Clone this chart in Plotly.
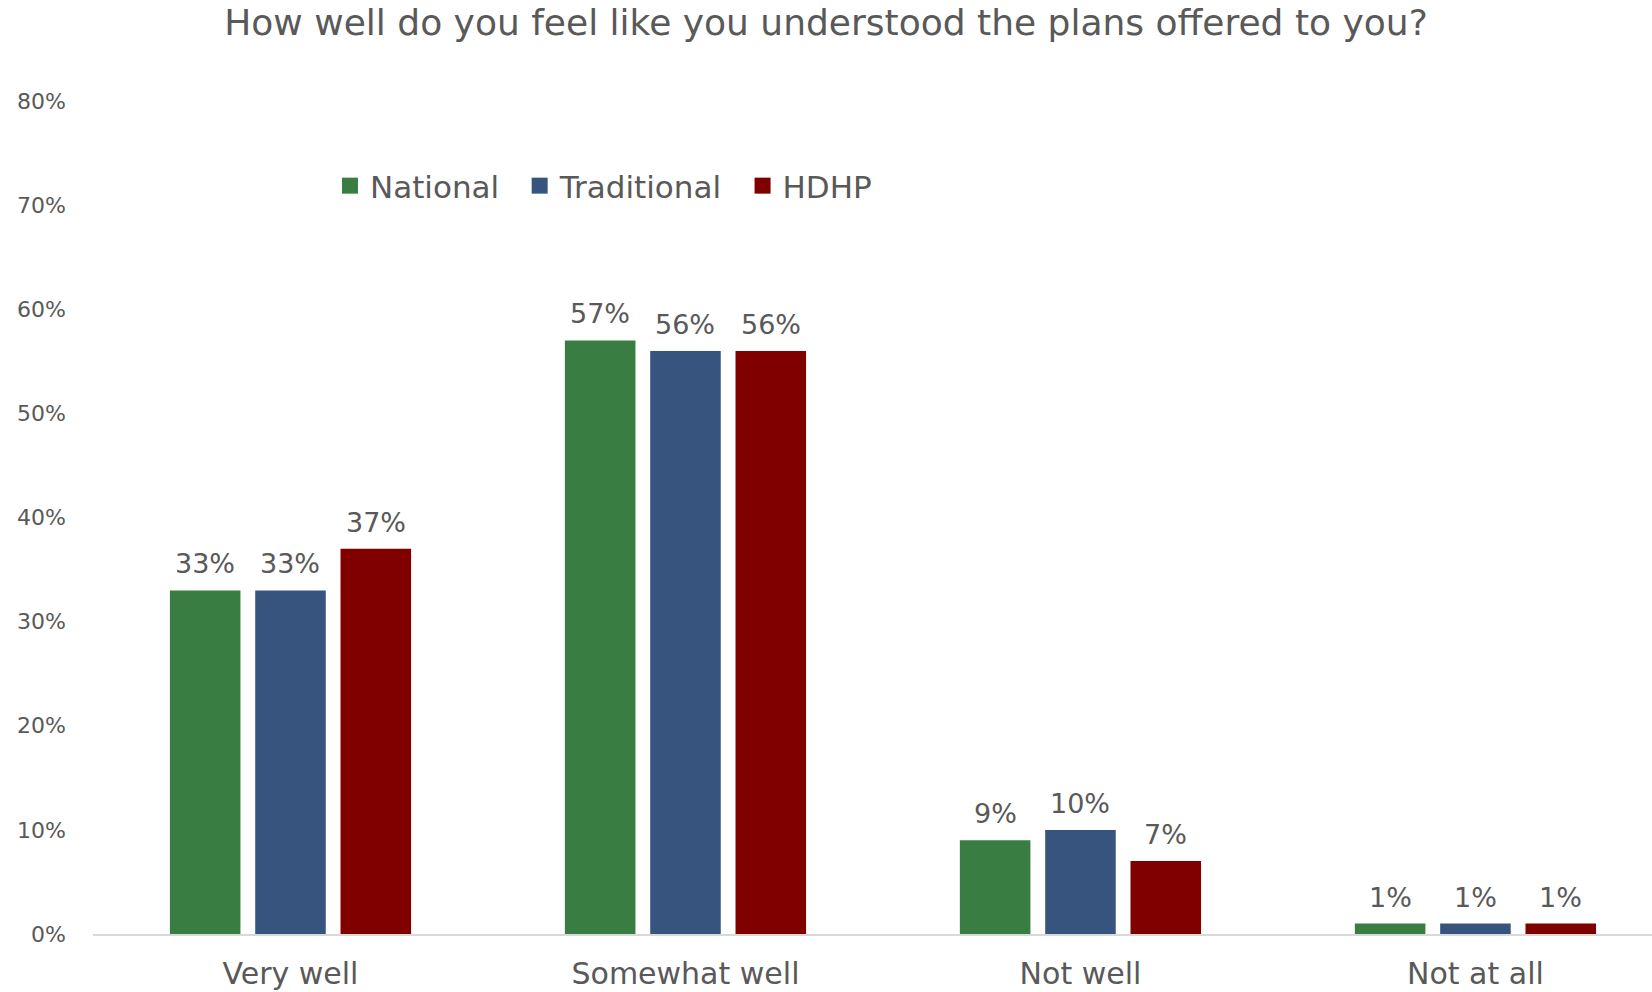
import plotly.graph_objects as go

categories = ["Very well", "Somewhat well", "Not well", "Not at all"]
national = [0.33, 0.57, 0.09, 0.01]
traditional = [0.33, 0.56, 0.10, 0.01]
hdhp = [0.37, 0.56, 0.07, 0.01]

series = [
    ("National", national, "#397D42"),
    ("Traditional", traditional, "#36547E"),
    ("HDHP", hdhp, "#800000"),
]

FONT = "DejaVu Sans"
TEXT = "#595959"

W, H = 1652, 992
ML, MR, MT, MB = 93, 0, 101, 58
X_RANGE = [-0.5, 3.447]
BARGAP = 0.352
GROUPGAP = 0.173

fig = go.Figure()
for name, vals, color in series:
    fig.add_trace(go.Bar(
        name=name,
        x=categories,
        y=vals,
        marker=dict(color=color, line=dict(width=0)),
        showlegend=False,
    ))

# legend entries with larger square swatches (en space widens the gap between entries)
for name, vals, color in series:
    fig.add_trace(go.Scatter(
        name=name + "\u2002",
        x=[categories[0]],
        y=[None],
        mode="markers",
        marker=dict(symbol="square", size=16, color=color),
        hoverinfo="skip",
        showlegend=True,
    ))

# value labels above each bar, offset to its slot in the group
cat_px = (W - ML - MR) / (X_RANGE[1] - X_RANGE[0])
slot_px = cat_px * (1 - BARGAP) / len(series)
for i, (name, vals, color) in enumerate(series):
    for cat, v in zip(categories, vals):
        fig.add_annotation(
            x=cat, y=v, xref="x", yref="y",
            text=f"{v:.0%}",
            showarrow=False,
            xanchor="center", yanchor="bottom",
            xshift=(i - (len(series) - 1) / 2) * slot_px,
            yshift=9,
            font=dict(family=FONT, size=27, color=TEXT),
        )

plot_h = H - MT - MB
fig.update_layout(
    width=W,
    height=H,
    paper_bgcolor="white",
    plot_bgcolor="white",
    margin=dict(l=ML, r=MR, t=MT, b=MB),
    barmode="group",
    bargap=BARGAP,
    bargroupgap=GROUPGAP,
    font=dict(family=FONT, color=TEXT),
    title=dict(
        text="How well do you feel like you understood the plans offered to you?",
        x=0.5, xanchor="center", xref="container",
        y=0.977, yanchor="middle",
        font=dict(family=FONT, size=36, color=TEXT),
    ),
    legend=dict(
        orientation="h",
        x=0.152, xanchor="left", xref="paper",
        y=(H - MB - 186) / plot_h, yanchor="middle",
        font=dict(family=FONT, size=31, color=TEXT),
        bgcolor="rgba(0,0,0,0)",
        traceorder="normal",
        itemsizing="trace",
    ),
    showlegend=True,
)

fig.update_xaxes(
    range=X_RANGE,
    automargin=False,
    showgrid=False,
    showline=True,
    linecolor="#D9D9D9",
    linewidth=2,
    ticks="",
    tickfont=dict(family=FONT, size=30, color=TEXT),
    ticklabelstandoff=12,
)
fig.update_yaxes(
    range=[0, 0.8],
    automargin=False,
    tickvals=[0, 0.1, 0.2, 0.3, 0.4, 0.5, 0.6, 0.7, 0.8],
    tickformat=".0%",
    showgrid=False,
    zeroline=False,
    showline=False,
    ticks="",
    tickfont=dict(family=FONT, size=22, color=TEXT),
    ticklabelstandoff=26,
)

fig.write_html("out.html")
